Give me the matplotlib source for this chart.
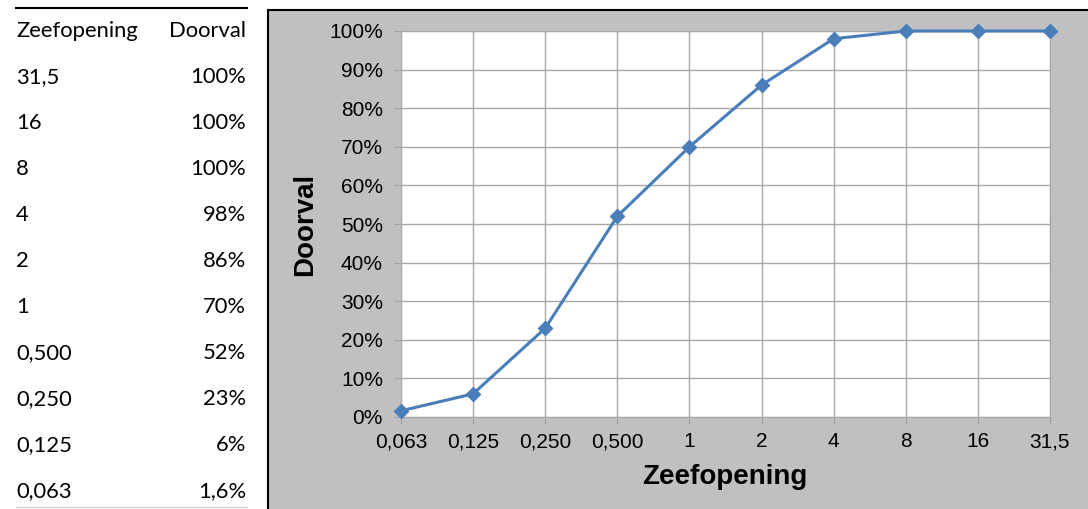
import matplotlib.pyplot as plt
from matplotlib.patches import Rectangle

# zeefanalyse: doorval per zeefopening
zeefopening = ["0,063", "0,125", "0,250", "0,500", "1", "2", "4", "8", "16", "31,5"]
doorval = [1.6, 6, 23, 52, 70, 86, 98, 100, 100, 100]
doorval_tekst = ["1,6%", "6%", "23%", "52%", "70%", "86%", "98%", "100%", "100%", "100%"]

W, H = 1088, 509
fig = plt.figure(figsize=(W / 100, H / 100), dpi=100)

def fx(px):
    return px / W

def fy(py):
    return 1 - py / H

# tabel links
tabel_font = "Lato"
fs_tabel = 15.8
fig.add_artist(plt.Line2D([fx(16), fx(247)], [fy(8), fy(8)], color="black", lw=1.5))
fig.add_artist(plt.Line2D([fx(16), fx(247)], [fy(507), fy(507)], color="#d9d9d9", lw=1))
fig.text(fx(16), fy(31), "Zeefopening", ha="left", va="center", fontsize=fs_tabel, family=tabel_font)
fig.text(fx(246), fy(31), "Doorval", ha="right", va="center", fontsize=fs_tabel, family=tabel_font)
for i, (z, d) in enumerate(zip(zeefopening[::-1], doorval_tekst[::-1])):
    y = 77 + 46 * i
    fig.text(fx(16), fy(y), z, ha="left", va="center", fontsize=fs_tabel, family=tabel_font)
    fig.text(fx(246), fy(y), d, ha="right", va="center", fontsize=fs_tabel, family=tabel_font)

# grijze grafiekrand
fig.add_artist(Rectangle((fx(268), -0.05), 1.0, fy(10) + 0.05, transform=fig.transFigure,
                         facecolor="#c0c0c0", edgecolor="black", lw=1.5, zorder=-1))

ax = fig.add_axes([fx(401), fy(417), fx(1050) - fx(401), fy(31) - fy(417)])
ax.set_facecolor("white")
x = range(len(zeefopening))
ax.plot(x, doorval, color="#4a7ebb", lw=2.2, marker="D", ms=7, clip_on=False, zorder=5)

ax.set_xlim(0, len(zeefopening) - 1)
ax.set_ylim(0, 100)
ax.set_xticks(list(x))
ax.set_xticklabels(zeefopening)
ax.set_yticks(range(0, 101, 10))
ax.set_yticklabels([f"{v}%" for v in range(0, 101, 10)])
ax.grid(True, color="#a8a8a8", lw=1)
for s in ax.spines.values():
    s.set_color("#a8a8a8")
ax.tick_params(axis="y", length=5, color="#a0a0a0", pad=8, labelsize=15)
ax.tick_params(axis="x", length=5, color="#a0a0a0", pad=6, labelsize=15)
for lab in ax.get_xticklabels() + ax.get_yticklabels():
    lab.set_family("Liberation Sans")

fig.text(fx(305), fy(224), "Doorval", rotation=90, ha="center", va="center",
         fontsize=20, fontweight="bold", family="Liberation Sans")
fig.text(fx(725), fy(477), "Zeefopening", ha="center", va="center",
         fontsize=20, fontweight="bold", family="Liberation Sans")

fig.savefig("out.png", dpi=100)
